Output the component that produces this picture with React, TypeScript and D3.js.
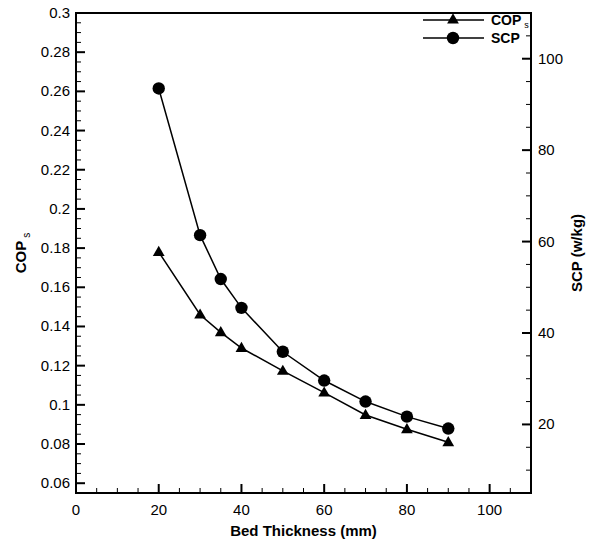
import React from "react";
import * as d3 from "d3";

const thickness = [20, 30, 35, 40, 50, 60, 70, 80, 90];
const copValues = [0.178, 0.146, 0.137, 0.129, 0.1173, 0.1062, 0.0948, 0.0875, 0.0809];
const scpValues = [93.5, 61.4, 51.8, 45.5, 35.9, 29.6, 25.0, 21.7, 19.1];
const xTicks = [0, 20, 40, 60, 80, 100];
const yLeftTicks = [0.06, 0.08, 0.1, 0.12, 0.14, 0.16, 0.18, 0.2, 0.22, 0.24, 0.26, 0.28, 0.3];
const yRightTicks = [20, 40, 60, 80, 100];

const W = 599;
const H = 543;
const L = 76, R = 531, T = 13, B = 493;
const FONT = "Liberation Sans, Arial, sans-serif";

export default function App() {
  const x = d3.scaleLinear().domain([0, 110]).range([L, R]);
  const yL = d3.scaleLinear().domain([0.055, 0.3]).range([B, T]);
  const yR = d3.scaleLinear().domain([5, 110]).range([B, T]);

  const xMinor = d3.range(0, 110.01, 5).filter((v) => !xTicks.includes(v) && v > 0 && v < 110);
  const yLMinor = d3.range(0, 50).map((i) => 0.055 + i * 0.005).filter((v) => v < 0.3 - 1e-6 && v > 0.055 + 1e-6 && Math.abs(Math.round(v * 50) - v * 50) > 1e-6);
  const yRMinor = d3.range(5, 110.01, 5).filter((v) => v % 20 !== 0 && v > 5 && v < 110);

  const copLine = d3.line<number>().x((_, i) => x(thickness[i])).y((d) => yL(d));
  const scpLine = d3.line<number>().x((_, i) => x(thickness[i])).y((d) => yR(d));
  const tri = d3.symbol().type(d3.symbolTriangle).size(60)();

  const fmt = (v: number) => String(+v.toFixed(2)).replace(/^0\.?/, (m) => m) ;

  return (
    <svg width={W} height={H} style={{ position: "absolute", left: 0, top: 0, background: "#fff" }} fontFamily={FONT}>
      {/* lines */}
      <path d={scpLine(scpValues) || ""} fill="none" stroke="#000" strokeWidth={1.5} />
      <path d={copLine(copValues) || ""} fill="none" stroke="#000" strokeWidth={1.5} />
      {scpValues.map((v, i) => (
        <circle key={"c" + i} cx={x(thickness[i])} cy={yR(v)} r={6.2} fill="#000" />
      ))}
      {copValues.map((v, i) => (
        <path key={"t" + i} d={tri || ""} transform={`translate(${x(thickness[i])},${yL(v) + 0.5})`} fill="#000" />
      ))}

      {/* x ticks */}
      {xTicks.map((v) => (
        <g key={"x" + v}>
          {v > 0 && <line x1={x(v)} x2={x(v)} y1={B} y2={B - 9} stroke="#000" strokeWidth={2} />}
          <text x={x(v)} y={B + 22} fontSize={15} textAnchor="middle">{v}</text>
        </g>
      ))}
      {xMinor.map((v) => (
        <line key={"xm" + v} x1={x(v)} x2={x(v)} y1={B} y2={B - 5} stroke="#000" strokeWidth={1} />
      ))}

      {/* left ticks */}
      {yLeftTicks.map((v) => (
        <g key={"yl" + v}>
          {v < 0.299 && <line x1={L} x2={L + 9} y1={yL(v)} y2={yL(v)} stroke="#000" strokeWidth={2} />}
          <text x={L - 6} y={yL(v) + 5} fontSize={15} textAnchor="end">{fmt(v)}</text>
        </g>
      ))}
      {yLMinor.map((v, i) => (
        <line key={"ylm" + i} x1={L} x2={L + 5} y1={yL(v)} y2={yL(v)} stroke="#000" strokeWidth={1} />
      ))}

      {/* right ticks */}
      {yRightTicks.map((v) => (
        <g key={"yr" + v}>
          <line x1={R} x2={R - 9} y1={yR(v)} y2={yR(v)} stroke="#000" strokeWidth={2} />
          <text x={R + 7} y={yR(v) + 5} fontSize={15} textAnchor="start">{v}</text>
        </g>
      ))}
      {yRMinor.map((v) => (
        <line key={"yrm" + v} x1={R} x2={R - 5} y1={yR(v)} y2={yR(v)} stroke="#000" strokeWidth={1} />
      ))}

      {/* frame */}
      <rect x={L} y={T} width={R - L} height={B - T} fill="none" stroke="#000" strokeWidth={2} />

      {/* axis titles */}
      <text x={(L + R) / 2} y={536} fontSize={15} fontWeight="bold" textAnchor="middle">Bed Thickness (mm)</text>
      <text transform={`translate(26,${(T + B) / 2}) rotate(-90)`} fontSize={15} fontWeight="bold" textAnchor="middle">
        COP<tspan fontSize={10} fontWeight="normal" dx={3} dy={4}>s</tspan>
      </text>
      <text transform={`translate(582,${(T + B) / 2}) rotate(-90)`} fontSize={15} fontWeight="bold" textAnchor="middle">SCP (w/kg)</text>

      {/* legend */}
      <g>
        <line x1={423} x2={484} y1={20} y2={20} stroke="#000" strokeWidth={1.5} />
        <path d={tri || ""} transform={`translate(453,20)`} fill="#000" />
        <text x={491} y={25} fontSize={14} fontWeight="bold">COP<tspan fontSize={9} fontWeight="normal" dx={3} dy={3}>s</tspan></text>
        <line x1={423} x2={484} y1={38} y2={38} stroke="#000" strokeWidth={1.5} />
        <circle cx={453} cy={38} r={6.2} fill="#000" />
        <text x={491} y={43} fontSize={14} fontWeight="bold">SCP</text>
      </g>
    </svg>
  );
}
